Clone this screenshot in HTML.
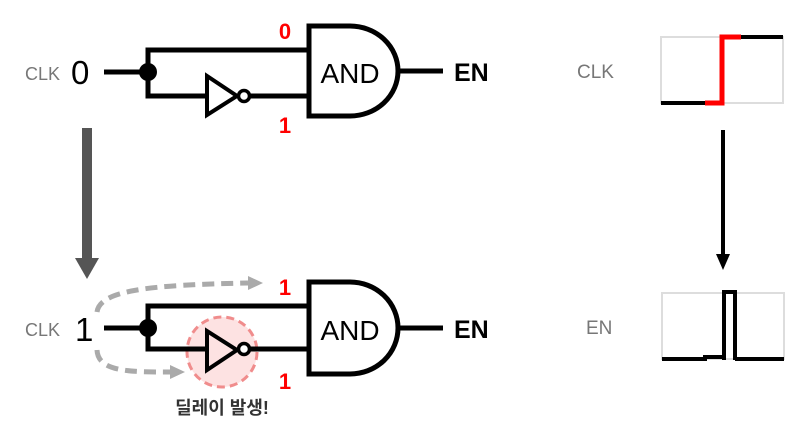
<!DOCTYPE html>
<html><head><meta charset="utf-8"><style>
html,body{margin:0;padding:0;background:#fff;}
svg{display:block}
text{font-family:"Liberation Sans","Noto Sans CJK KR",sans-serif;}
</style></head><body>
<svg width="809" height="437" viewBox="0 0 809 437" xmlns="http://www.w3.org/2000/svg">
<!-- top circuit -->
<g stroke="#000" stroke-width="5" fill="none">
<line x1="104" y1="72" x2="148" y2="72"/>
<polyline points="307,50 148,50 148,96 205,96"/>
<line x1="250" y1="96" x2="307" y2="96"/>
<polygon points="207,76 207,115 237,96" stroke-width="4"/>
<circle cx="244" cy="96" r="5.5" stroke-width="3.5" fill="#fff"/>
<path d="M309,26 H350 A48,45 0 0 1 350,116 H309 Z" fill="#fff"/>
<line x1="398" y1="71" x2="443" y2="71"/>
</g>
<circle cx="148" cy="72" r="9" fill="#000"/>
<text x="25" y="80" font-size="18" fill="#777">CLK</text>
<text x="71" y="84" font-size="33" fill="#000">0</text>
<text x="350" y="83" font-size="28" text-anchor="middle" fill="#000">AND</text>
<text x="454" y="81" font-size="25" font-weight="bold" fill="#000">EN</text>
<text x="285" y="39" font-size="22" font-weight="bold" fill="#f00" text-anchor="middle">0</text>
<text x="285" y="133" font-size="22" font-weight="bold" fill="#f00" text-anchor="middle">1</text>
<!-- gray arrow -->
<rect x="82" y="128" width="10" height="132" fill="#555"/>
<polygon points="75,258 99,258 87,279" fill="#555"/>
<!-- bottom circuit -->
<circle cx="222" cy="352" r="35" fill="#fde2e2" stroke="#f08c8c" stroke-width="3" stroke-dasharray="8,5"/>
<g stroke="#000" stroke-width="5" fill="none">
<line x1="104" y1="328" x2="148" y2="328"/>
<polyline points="307,306 148,306 148,349 205,349"/>
<line x1="250" y1="349" x2="307" y2="349"/>
<polygon points="207,331 207,370 237,350" stroke-width="4"/>
<circle cx="244" cy="349" r="5.5" stroke-width="3.5" fill="#fff"/>
<path d="M309,282 H350 A48,46 0 0 1 350,374 H309 Z" fill="#fff"/>
<line x1="398" y1="328" x2="443" y2="328"/>
</g>
<circle cx="148" cy="328" r="9" fill="#000"/>
<text x="25" y="336" font-size="18" fill="#777">CLK</text>
<text x="75" y="341" font-size="33" fill="#000">1</text>
<text x="350" y="340" font-size="28" text-anchor="middle" fill="#000">AND</text>
<text x="454" y="338" font-size="25" font-weight="bold" fill="#000">EN</text>
<text x="285" y="295" font-size="22" font-weight="bold" fill="#f00" text-anchor="middle">1</text>
<text x="285" y="389" font-size="22" font-weight="bold" fill="#f00" text-anchor="middle">1</text>
<g stroke="#aaa" stroke-width="5" fill="none" stroke-dasharray="12,7">
<path d="M97,312 C100,290 150,285 248,283"/>
<path d="M97,350 C98,372 130,372 170,372"/>
</g>
<polygon points="248,276 263,283 248,290" fill="#aaa"/>
<polygon points="170,365 185,372 170,379" fill="#aaa"/>
<text x="222" y="414" font-size="18" font-weight="bold" fill="#333" text-anchor="middle">딜레이 발생!</text>
<!-- right timing -->
<text x="577" y="78" font-size="19" fill="#777">CLK</text>
<rect x="661" y="37" width="122" height="66" fill="none" stroke="#ddd" stroke-width="2"/>
<line x1="661" y1="103" x2="705" y2="103" stroke="#000" stroke-width="4"/>
<polyline points="705,103 722,103 722,37 741,37" stroke="#f00" stroke-width="5" fill="none"/>
<line x1="741" y1="37" x2="783" y2="37" stroke="#000" stroke-width="4"/>
<line x1="723" y1="130" x2="723" y2="255" stroke="#000" stroke-width="4"/>
<polygon points="716,254 730,254 723,270" fill="#000"/>
<text x="586" y="334" font-size="19" fill="#777">EN</text>
<rect x="662" y="293" width="122" height="66" fill="none" stroke="#ddd" stroke-width="2"/>
<polyline points="662,359 705,359 705,357 724,357" stroke="#000" stroke-width="4" fill="none"/>
<polyline points="724,360 724,292 735,292 735,360" stroke="#000" stroke-width="4" fill="none"/>
<line x1="735" y1="359" x2="784" y2="359" stroke="#000" stroke-width="4"/>
</svg>
</body></html>
